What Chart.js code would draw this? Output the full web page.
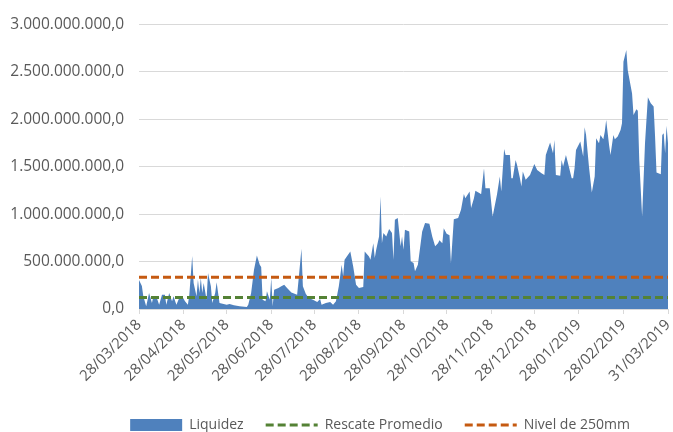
<!DOCTYPE html>
<html>
<head>
<meta charset="utf-8">
<script src="https://cdn.jsdelivr.net/npm/chart.js@4.4.1/dist/chart.umd.min.js"></script>
<style>
  html, body { margin: 0; padding: 0; background: #fff; }
  #wrap { width: 673px; height: 432px; }
</style>
</head>
<body>
<div id="wrap"><canvas id="grafico" width="673" height="432"></canvas></div>
<script>
// dias desde el 28/03/2018 y liquidez en millones
const dias = [
  0, 2, 3, 5, 7, 9, 10, 12, 14, 16, 18, 19, 21, 23, 24, 26, 28, 30, 32, 34,
  35, 37, 38, 40, 41, 42, 43, 44, 45, 47, 48, 50, 51, 53, 54, 56,
  61, 63, 66, 70, 75, 76, 78, 80, 82, 84, 85, 86, 88, 89, 91, 92, 93, 94,
  97, 99, 101, 103, 106, 110, 111, 113, 114, 116, 118, 121, 124, 126, 127,
  130, 133, 135, 137, 139, 141, 142, 143, 147, 149, 151, 153, 156, 157, 160,
  161, 163, 164, 165, 167, 168, 169, 170, 172, 174, 176, 177, 178, 180, 182,
  183, 184, 185, 188, 189, 191, 192, 194, 197, 199, 202, 204, 206, 208,
  209, 211, 212, 214, 216, 217, 219, 222, 224, 226, 227, 230, 231, 233, 234,
  237, 238, 240, 241, 244, 246, 249, 251, 252, 254, 255, 258, 259, 260, 262,
  263, 265, 266, 267, 269, 272, 275, 277, 280, 282, 283, 285, 286, 288, 289,
  290, 293, 294, 295, 297, 299, 301, 302, 303, 304, 307, 309, 310, 311, 313,
  315, 317, 318, 320, 321, 323, 324, 325, 327, 328, 330, 331, 333, 335, 336,
  337, 339, 340, 343, 344, 346, 347, 348, 350, 352, 354, 356, 358, 359, 360,
  363, 364, 365, 366, 367, 368
];
const liquidez = [
  305, 242, 134, 28, 168, 63, 134, 134, 45, 150, 150, 45, 168, 81, 134, 45, 116, 134, 81, 45,
  150, 558, 274, 134, 308, 168, 326, 168, 274, 98, 379, 239, 63, 168, 281, 63,
  45, 53, 39, 28, 21, 45, 168, 414, 565, 466, 442, 98, 81, 186, 98, 326, 28, 203,
  221, 239, 256, 221, 175, 150, 308, 635, 239, 161, 116, 98, 74, 105, 45,
  63, 74, 45, 81, 239, 466, 344, 519, 607, 449, 256, 221, 231, 607, 554,
  519, 694, 537, 624, 765, 1186, 694, 800, 765, 842, 800, 519, 940, 958, 660,
  765, 624, 834, 817, 502, 484, 397, 466, 817, 905, 898, 765, 660, 694,
  725, 694, 852, 792, 776, 484, 947, 958, 1045, 1213, 1168, 1238, 1063, 1168, 1245,
  1221, 1210, 1483, 1273, 1273, 975, 1203, 1396, 1238, 1686, 1623, 1623, 1378, 1378, 1571,
  1518, 1378, 1291, 1449, 1361, 1413, 1529, 1466, 1431, 1413, 1623, 1712, 1754, 1641, 1781,
  1413, 1403, 1571, 1501, 1623, 1501, 1378, 1378, 1483, 1676, 1764, 1606, 1915, 1834, 1501,
  1228, 1396, 1799, 1746, 1834, 1788, 1869, 1992, 1728, 1623, 1834, 1788, 1817, 1887, 1957,
  2606, 2728, 2517, 2272, 2044, 2104, 2090, 1571, 975, 1746, 2230, 2168, 2133, 1817, 1439,
  1421, 1834, 1852, 1641, 1930, 1746
];
const rescatePromedio = 120;   // millones
const nivel250 = 335;          // millones

const diasEtiqueta = [0, 31, 61, 92, 122, 153, 184, 214, 245, 275, 306, 337, 368];
const etiquetasX = [
  '28/03/2018', '28/04/2018', '28/05/2018', '28/06/2018', '28/07/2018', '28/08/2018',
  '28/09/2018', '28/10/2018', '28/11/2018', '28/12/2018', '28/01/2019', '28/02/2019', '31/03/2019'
];

const M = 1e6;
const ultimoDia = diasEtiqueta[diasEtiqueta.length - 1];

function formato(v) {
  const s = Math.round(v).toString().replace(/\B(?=(\d{3})+(?!\d))/g, '.');
  return s + ',0';
}

// mueve la leyenda como en Excel
const moverLeyenda = {
  id: 'moverLeyenda',
  afterLayout(chart) {
    const l = chart.legend;
    if (!l) return;
    l.left += 46; l.right += 46;
    l.top += 10; l.bottom += 10;
  }
};

const gris = '#595959';
const fuente = "'Open Sans', sans-serif";

new Chart(document.getElementById('grafico'), {
  type: 'line',
  data: {
    datasets: [
      {
        label: 'Liquidez',
        data: dias.map((d, i) => ({ x: d, y: liquidez[i] * M })),
        backgroundColor: '#4F81BD',
        borderColor: '#4F81BD',
        borderWidth: 0,
        fill: 'origin',
        pointRadius: 0,
        pointStyle: 'rect',
        tension: 0,
        order: 2
      },
      {
        label: 'Rescate Promedio',
        data: [{ x: 0, y: rescatePromedio * M }, { x: ultimoDia, y: rescatePromedio * M }],
        borderColor: '#548235',
        backgroundColor: '#548235',
        borderWidth: 3,
        borderDash: [8, 4],
        fill: false,
        pointRadius: 0,
        pointStyle: 'line',
        order: 1
      },
      {
        label: 'Nivel de 250mm',
        data: [{ x: 0, y: nivel250 * M }, { x: ultimoDia, y: nivel250 * M }],
        borderColor: '#C55A11',
        backgroundColor: '#C55A11',
        borderWidth: 3,
        borderDash: [8, 4],
        fill: false,
        pointRadius: 0,
        pointStyle: 'line',
        order: 0
      }
    ]
  },
  options: {
    responsive: false,
    animation: false,
    layout: { padding: { left: 0, right: 5, top: 21, bottom: 0 } },
    plugins: {
      tooltip: { enabled: false },
      legend: {
        position: 'bottom',
        labels: {
          usePointStyle: true,
          pointStyleWidth: 52,
          boxHeight: 12,
          padding: 22,
          color: gris,
          font: { family: fuente, size: 14 },
          sort: (a, b) => a.datasetIndex - b.datasetIndex,
          generateLabels: (chart) => {
            const items = Chart.defaults.plugins.legend.labels.generateLabels(chart);
            items.forEach(it => {
              const ds = chart.data.datasets[it.datasetIndex];
              it.lineDash = ds.borderDash || [];
              it.lineWidth = ds.borderWidth;
              it.strokeStyle = ds.borderColor;
            });
            return items;
          }
        }
      }
    },
    scales: {
      x: {
        type: 'linear',
        min: 0,
        max: ultimoDia,
        afterBuildTicks: (scale) => { scale.ticks = diasEtiqueta.map(v => ({ value: v })); },
        afterFit: (scale) => { scale.height = 77; scale.paddingRight = 0; scale.paddingLeft = 0; },
        grid: { display: true, drawOnChartArea: false, drawTicks: true, tickLength: 5, color: '#D9D9D9' },
        border: { display: true, color: '#D9D9D9' },
        ticks: {
          autoSkip: false,
          minRotation: 45,
          maxRotation: 45,
          padding: 2,
          color: gris,
          font: { family: fuente, size: 15 },
          callback: (v, i) => etiquetasX[i]
        }
      },
      y: {
        min: 0,
        max: 3000 * M,
        afterFit: (scale) => { scale.width = 139; },
        grid: { color: '#D9D9D9', drawTicks: false },
        border: { display: false },
        ticks: {
          stepSize: 500 * M,
          padding: 15,
          color: gris,
          font: { family: fuente, size: 15.5 },
          callback: (v) => formato(v)
        }
      }
    }
  },
  plugins: [moverLeyenda]
});
</script>
</body>
</html>
